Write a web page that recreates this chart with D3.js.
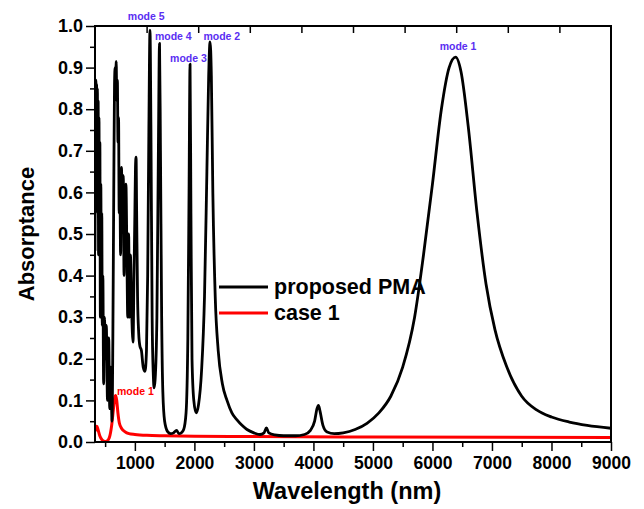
<!DOCTYPE html>
<html><head><meta charset="utf-8">
<script src="https://cdn.jsdelivr.net/npm/d3@7"></script>
<style>body{margin:0;background:#fff}svg{display:block}text{font-family:"Liberation Sans",Arial,sans-serif;font-weight:bold}</style>
</head><body>
<script>
const xTicks = [1000,2000,3000,4000,5000,6000,7000,8000,9000];
const yTicks = [0,0.1,0.2,0.3,0.4,0.5,0.6,0.7,0.8,0.9,1.0];
const seriesNames = ["proposed PMA","case 1"];
const seriesColors = ["#000000","#ff0000"];
const proposedPMA = [[330,0.46],[337,0.80],[345,0.87],[352,0.70],[358,0.86],[364,0.62],[370,0.85],[377,0.55],[383,0.82],[390,0.45],[397,0.78],[404,0.50],[412,0.72],[420,0.30],[428,0.62],[436,0.40],[444,0.55],[452,0.28],[462,0.40],[475,0.14],[490,0.30],[505,0.20],[520,0.28],[540,0.10],[560,0.25],[578,0.08],[595,0.18],[616,0.05],[630,0.25],[645,0.60],[658,0.86],[668,0.90],[676,0.84],[686,0.915],[696,0.82],[706,0.87],[716,0.72],[726,0.78],[736,0.55],[748,0.62],[760,0.45],[775,0.66],[790,0.52],[805,0.64],[818,0.40],[832,0.58],[850,0.62],[866,0.45],[880,0.30],[895,0.50],[910,0.30],[925,0.45],[945,0.32],[969,0.24],[985,0.40],[1000,0.55],[1010,0.66],[1020,0.685],[1030,0.55],[1045,0.35],[1065,0.26],[1085,0.23],[1110,0.22],[1140,0.18],[1170,0.17],[1195,0.22],[1215,0.40],[1235,0.75],[1254,0.99],[1270,0.75],[1290,0.30],[1310,0.16],[1322,0.13],[1340,0.15],[1370,0.30],[1395,0.70],[1414,0.958],[1430,0.70],[1450,0.30],[1470,0.12],[1500,0.05],[1550,0.025],[1600,0.02],[1650,0.022],[1700,0.028],[1740,0.02],[1780,0.022],[1820,0.03],[1860,0.07],[1890,0.25],[1910,0.60],[1927,0.908],[1942,0.55],[1960,0.20],[1990,0.10],[2030,0.07],[2070,0.09],[2120,0.17],[2170,0.35],[2210,0.65],[2240,0.88],[2263,0.962],[2285,0.88],[2310,0.60],[2350,0.35],[2400,0.22],[2470,0.14],[2548,0.10],[2630,0.07],[2716,0.053],[2800,0.04],[2884,0.03],[3000,0.022],[3102,0.018],[3170,0.022],[3210,0.034],[3250,0.022],[3350,0.017],[3500,0.015],[3700,0.015],[3850,0.018],[3950,0.028],[4020,0.05],[4060,0.08],[4085,0.088],[4110,0.075],[4160,0.04],[4230,0.024],[4350,0.02],[4500,0.022],[4700,0.03],[4900,0.045],[5100,0.07],[5300,0.11],[5500,0.18],[5700,0.30],[5850,0.45],[6000,0.62],[6150,0.80],[6280,0.90],[6390,0.925],[6480,0.89],[6600,0.76],[6750,0.55],[6900,0.38],[7050,0.27],[7250,0.18],[7500,0.11],[7750,0.077],[8000,0.06],[8300,0.048],[8600,0.04],[9000,0.033]];
const case1 = [[330,0.025],[345,0.035],[362,0.038],[380,0.03],[410,0.015],[450,0.005],[500,0.001],[530,0.002],[570,0.01],[610,0.04],[640,0.08],[660,0.105],[678,0.112],[695,0.10],[715,0.07],[740,0.045],[780,0.032],[830,0.025],[900,0.02],[1000,0.018],[1200,0.016],[1500,0.015],[2000,0.014],[3000,0.013],[5000,0.012],[9000,0.011]];
const modeLabels = ["mode 5","mode 4","mode 3","mode 2","mode 1"];
const modeLabelX = [1190,1645,1900,2460,6430];
const modeLabelY = [1.014,0.966,0.913,0.966,0.942];
const case1Label = "mode 1";

const W=644,H=509, m={l:95,r:611,t:26,b:442};
const svg=d3.select("body").append("svg").attr("width",W).attr("height",H);
const x=d3.scaleLinear().domain([330,9000]).range([m.l,m.r]);
const y=d3.scaleLinear().domain([0,1]).range([m.b,m.t]);
const xTop=d3.scaleLinear().domain([0,10]).range([m.l,m.r]);

svg.append("clipPath").attr("id","c").append("rect").attr("x",m.l).attr("y",m.t-4).attr("width",m.r-m.l).attr("height",m.b-m.t+4);
const line=d3.line().x(d=>x(d[0])).y(d=>y(d[1])).curve(d3.curveMonotoneX);
const g=svg.append("g").attr("clip-path","url(#c)");
g.append("path").datum(case1).attr("d",line).attr("fill","none").attr("stroke",seriesColors[1]).attr("stroke-width",3);
g.append("path").datum(proposedPMA).attr("d",line).attr("fill","none").attr("stroke",seriesColors[0]).attr("stroke-width",2.8).attr("stroke-linejoin","round");

// axes
const xAx=svg.append("g").attr("transform",`translate(0,${m.b})`).call(d3.axisBottom(x).tickValues(xTicks).tickSize(9).tickFormat(d3.format("d")));
const xMin=svg.append("g").attr("transform",`translate(0,${m.b})`).call(d3.axisBottom(x).tickValues(d3.range(500,9000,1000)).tickSize(5).tickFormat(""));
const yAx=svg.append("g").attr("transform",`translate(${m.l},0)`).call(d3.axisLeft(y).tickValues(yTicks).tickSize(9).tickFormat(d3.format(".1f")));
const yMin=svg.append("g").attr("transform",`translate(${m.l},0)`).call(d3.axisLeft(y).tickValues(d3.range(0.05,1,0.1)).tickSize(5).tickFormat(""));
const topAx=svg.append("g").attr("transform",`translate(0,${m.t})`).call(d3.axisBottom(xTop).tickValues(d3.range(1,10)).tickSize(7).tickFormat(""));
[xAx,xMin,yAx,yMin,topAx].forEach(a=>{a.select(".domain").remove();a.selectAll("line").attr("stroke","#000").attr("stroke-width",1.5);});
xAx.selectAll("text").attr("font-size",17.5).attr("y",14.8).attr("fill","#000");
yAx.selectAll("text").attr("font-size",18).attr("fill","#000");
svg.append("rect").attr("x",m.l).attr("y",m.t).attr("width",m.r-m.l).attr("height",m.b-m.t).attr("fill","none").attr("stroke","#000").attr("stroke-width",2);

// axis titles
svg.append("text").attr("x",347).attr("y",499).attr("text-anchor","middle").attr("font-size",23.5).text("Wavelength (nm)");
svg.append("text").attr("transform",`translate(34,${234}) rotate(-90)`).attr("text-anchor","middle").attr("font-size",22).text("Absorptance");

// mode labels
svg.selectAll(".ml").data(modeLabels).enter().append("text").attr("x",(d,i)=>x(modeLabelX[i])).attr("y",(d,i)=>y(modeLabelY[i])).attr("text-anchor","middle").attr("font-size",10.5).attr("fill","#5a2ef2").text(d=>d);
svg.append("text").attr("x",117).attr("y",395).attr("font-size",10.5).attr("fill","#ff0000").text(case1Label);

// legend
const lg=svg.append("g");
seriesNames.forEach((n,i)=>{
  const yy=287+i*26;
  lg.append("line").attr("x1",219).attr("x2",268).attr("y1",yy).attr("y2",yy).attr("stroke",seriesColors[i]).attr("stroke-width",3);
  lg.append("text").attr("x",274).attr("y",yy+7).attr("font-size",21.5).text(n);
});
</script>
</body></html>
